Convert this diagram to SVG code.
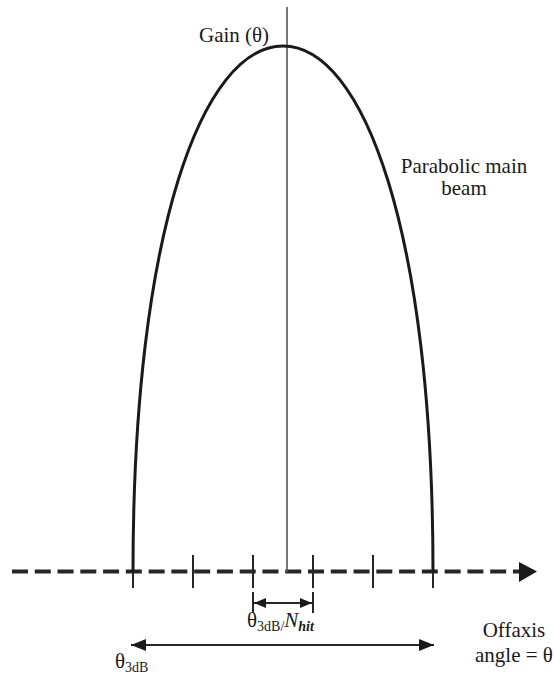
<svg xmlns="http://www.w3.org/2000/svg" width="554" height="679" viewBox="0 0 554 679">
<style>
.t{font-family:'Liberation Serif','DejaVu Serif','Times New Roman',serif;fill:#1a1a1a;font-size:21px}
.sub{font-size:14px}
.tick{stroke:#262626;stroke-width:2}
.dim{stroke:#262626;stroke-width:2;fill:none}
</style>
<defs>
<marker id="ah" viewBox="0 0 15 12" refX="15" refY="6" markerWidth="15" markerHeight="12" markerUnits="userSpaceOnUse" orient="auto-start-reverse">
<path d="M0,0 L15,6 L0,12 Z" fill="#1a1a1a"/>
</marker>
<marker id="ahs" viewBox="0 0 12 10" refX="12" refY="5" markerWidth="12" markerHeight="10" markerUnits="userSpaceOnUse" orient="auto-start-reverse">
<path d="M0,0 L12,5 L0,10 Z" fill="#1a1a1a"/>
</marker>
</defs>
<rect width="554" height="679" fill="#fff"/>
<g id="connectors">
<line id="axis-x" x1="12" y1="571.5" x2="520" y2="571.5" stroke="#262626" stroke-width="4" stroke-dasharray="16 6.77"/>
<path id="axis-x-head" d="M519,562 L537,571.5 L519,582 Z" fill="#1a1a1a"/>
<line id="axis-gain" x1="287" y1="7" x2="287" y2="572" stroke="#555" stroke-width="1.6"/>
<g id="ticks">
<line class="tick" x1="133" y1="555" x2="133" y2="588"/>
<line class="tick" x1="193" y1="555" x2="193" y2="588"/>
<line class="tick" x1="253" y1="555" x2="253" y2="588"/>
<line class="tick" x1="313" y1="555" x2="313" y2="588"/>
<line class="tick" x1="373" y1="555" x2="373" y2="588"/>
<line class="tick" x1="433" y1="555" x2="433" y2="588"/>
</g>
<g id="dim-step">
<line class="dim" x1="253" y1="592" x2="253" y2="613"/>
<line class="dim" x1="313" y1="592" x2="313" y2="613"/>
<line class="dim" x1="254" y1="603" x2="312" y2="603" marker-start="url(#ahs)" marker-end="url(#ahs)"/>
</g>
<line id="dim-3db" class="dim" x1="131" y1="645" x2="434" y2="645" marker-start="url(#ah)" marker-end="url(#ah)"/>
</g>
<g id="beam">
<path d="M133,572 C133,230 203,46 283,46 C363,46 433,230 433,572" fill="none" stroke="#1a1a1a" stroke-width="3"/>
</g>
<g id="label-gain"><text class="t" x="199" y="42" font-family="Liberation Serif, serif">Gain (θ)</text></g>
<g id="label-beam">
<text class="t" x="464" y="173" text-anchor="middle" font-family="Liberation Serif, serif">Parabolic main</text>
<text class="t" x="464" y="195" text-anchor="middle" font-family="Liberation Serif, serif">beam</text>
</g>
<g id="label-step"><text class="t" x="247" y="627" font-family="Liberation Serif, serif">θ<tspan class="sub" dy="4">3dB/</tspan><tspan dy="-4" font-style="italic">N</tspan><tspan class="sub" dy="4" font-style="italic" font-weight="bold">hit</tspan></text></g>
<g id="label-offaxis">
<text class="t" x="514" y="637" text-anchor="middle" font-family="Liberation Serif, serif">Offaxis</text>
<text class="t" x="514" y="662" text-anchor="middle" font-family="Liberation Serif, serif">angle = θ</text>
</g>
<g id="label-3db"><text class="t" x="115" y="668" font-family="Liberation Serif, serif">θ<tspan class="sub" dy="4">3dB</tspan></text></g>
</svg>
